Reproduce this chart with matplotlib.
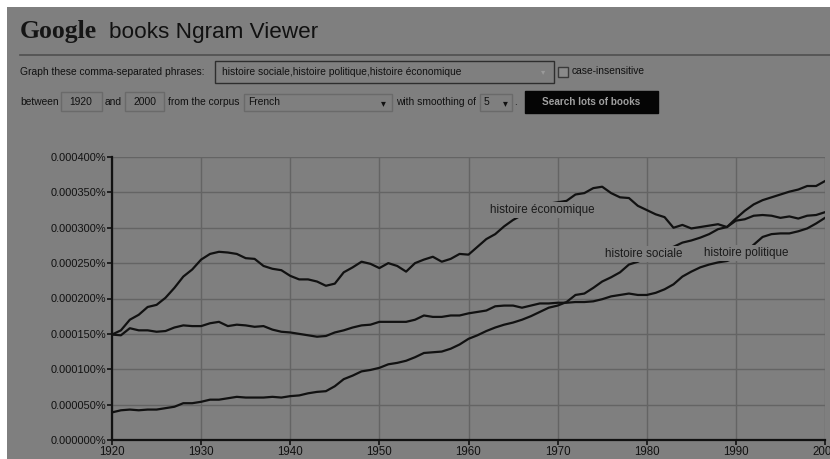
#!/usr/bin/env python3
# -*- coding: utf-8 -*-

import matplotlib
matplotlib.use("Agg")
from matplotlib import pyplot as plt
from matplotlib.patches import Rectangle
from matplotlib.ticker import FuncFormatter, MultipleLocator

# Ngram frequencies, in units of 0.00001 %
YEARS = list(range(1920, 2001))
SOCIALE = [
    3.9, 4.2, 4.3, 4.2, 4.3, 4.3, 4.5, 4.7, 5.2, 5.2,
    5.4, 5.7, 5.7, 5.9, 6.1, 6.0, 6.0, 6.0, 6.1, 6.0,
    6.2, 6.3, 6.6, 6.8, 6.9, 7.6, 8.6, 9.1, 9.7, 9.9,
    10.2, 10.7, 10.9, 11.2, 11.7, 12.3, 12.4, 12.5, 12.9, 13.5,
    14.3, 14.8, 15.4, 15.9, 16.3, 16.6, 17.0, 17.5, 18.1, 18.7,
    19.0, 19.5, 20.5, 20.7, 21.5, 22.4, 23.0, 23.7, 24.8, 25.2,
    25.8, 26.4, 27.0, 27.3, 27.9, 28.2, 28.6, 29.1, 29.8, 30.1,
    31.3, 32.4, 33.3, 33.9, 34.3, 34.7, 35.1, 35.4, 35.9, 35.9,
    36.6,
]
POLITIQUE = [
    14.9, 14.8, 15.8, 15.5, 15.5, 15.3, 15.4, 15.9, 16.2, 16.1,
    16.1, 16.5, 16.7, 16.1, 16.3, 16.2, 16.0, 16.1, 15.6, 15.3,
    15.2, 15.0, 14.8, 14.6, 14.7, 15.2, 15.5, 15.9, 16.2, 16.3,
    16.7, 16.7, 16.7, 16.7, 17.0, 17.6, 17.4, 17.4, 17.6, 17.6,
    17.9, 18.1, 18.3, 18.9, 19.0, 19.0, 18.7, 19.0, 19.3, 19.3,
    19.4, 19.4, 19.5, 19.5, 19.6, 19.9, 20.3, 20.5, 20.7, 20.5,
    20.5, 20.8, 21.3, 22.0, 23.1, 23.8, 24.4, 24.8, 25.1, 25.3,
    25.8, 26.5, 27.6, 28.7, 29.1, 29.2, 29.2, 29.5, 29.9, 30.6,
    31.4,
]
ECONOMIQUE = [
    14.9, 15.5, 17.0, 17.7, 18.8, 19.1, 20.1, 21.5, 23.1, 24.1,
    25.5, 26.3, 26.6, 26.5, 26.3, 25.7, 25.6, 24.6, 24.2, 24.0,
    23.2, 22.7, 22.7, 22.4, 21.8, 22.1, 23.7, 24.4, 25.2, 24.9,
    24.3, 25.0, 24.6, 23.8, 25.0, 25.5, 25.9, 25.2, 25.6, 26.3,
    26.2, 27.3, 28.4, 29.1, 30.2, 31.1, 31.8, 32.3, 33.0, 33.4,
    33.6, 33.8, 34.7, 34.9, 35.6, 35.8, 34.9, 34.3, 34.2, 33.1,
    32.5, 31.9, 31.5, 30.0, 30.4, 29.9, 30.1, 30.3, 30.5, 30.1,
    31.0, 31.2, 31.7, 31.8, 31.7, 31.4, 31.6, 31.3, 31.7, 31.8,
    32.2,
]
SERIES = [
    ("histoire sociale", SOCIALE, (1975.3, 26.3)),
    ("histoire politique", POLITIQUE, (1986.4, 26.4)),
    ("histoire économique", ECONOMIQUE, (1962.4, 32.5)),
]

BG = "#7f7f7f"
INK = "#111111"
W, H = 830, 459

plt.rcParams["font.family"] = ["Liberation Sans", "DejaVu Sans"]

fig = plt.figure(figsize=(W / 100, H / 100), dpi=100)
fig.patch.set_facecolor("white")

# page chrome in pixel coordinates
page = fig.add_axes([0, 0, 1, 1])
page.set_xlim(0, W)
page.set_ylim(H, 0)
page.axis("off")
page.add_patch(Rectangle((7, 7), W, H, facecolor=BG, edgecolor="none"))


def box(x0, y0, x1, y1, edge="#4a4a4a", face=BG, lw=1.0):
    page.add_patch(Rectangle((x0, y0), x1 - x0, y1 - y0, facecolor=face, edgecolor=edge, linewidth=lw))


def label(x, y, s, size=7.4, **kw):
    kw.setdefault("color", INK)
    page.text(x, y, s, fontsize=size, va="center", ha=kw.pop("ha", "left"), **kw)


# title
page.text(20, 38, "Google", fontsize=18.5, family="Liberation Serif", weight="bold", color="#151515", va="baseline")
page.text(109, 38, "books Ngram Viewer", fontsize=16.2, color=INK, va="baseline")
page.plot([20, W], [55, 55], color="#4f4f4f", linewidth=1.2)

# first row
label(20, 72, "Graph these comma-separated phrases:")
box(215, 61, 554, 83, edge="#2e2e2e")
label(222, 72, "histoire sociale,histoire politique,histoire économique")
label(543, 73, "▾", size=6, color="#9a9a9a", ha="center")
box(558, 67, 568, 77, edge="#3a3a3a", face="#8a8a8a")
label(572, 71.5, "case-insensitive")

# second row
label(20, 102, "between")
box(61, 92, 102, 111, edge="#6a6a6a")
label(69, 102, "1920")
label(105, 102, "and")
box(125, 92, 164, 111, edge="#6a6a6a")
label(133, 102, "2000")
label(168, 102, "from the corpus")
box(244, 94, 392, 111, edge="#6a6a6a")
label(248, 102, "French")
label(383, 103, "▾", size=7, ha="center")
label(396, 102, "with smoothing of")
box(480, 94, 512, 111, edge="#6a6a6a")
label(484, 102, "5")
label(505, 103, "▾", size=7, ha="center")
label(514, 102, ".")
box(525, 91, 658, 113, edge="#050505", face="#050505")
label(591.5, 102, "Search lots of books", size=7.2, color="#a0a0a0", ha="center", weight="bold")

# chart
ax = fig.add_axes([112 / W, (H - 440) / H, 713 / W, 283 / H])
ax.set_facecolor(BG)
for name, values, (tx, ty) in SERIES:
    ax.plot(YEARS, values, color=INK, linewidth=1.6, zorder=3)
    ax.text(tx, ty, name, fontsize=8.4, color="#1a1a1a", va="center", zorder=4,
            bbox=dict(facecolor=BG, edgecolor="none", pad=1.5))

ax.set_xlim(1920, 2000)
ax.set_ylim(0, 40)
ax.xaxis.set_major_locator(MultipleLocator(10))
ax.yaxis.set_major_locator(MultipleLocator(5))
ax.yaxis.set_major_formatter(FuncFormatter(lambda v, _: f"{v * 1e-5:.6f}%"))
ax.grid(True, color="#646464", linewidth=1.0)
ax.set_axisbelow(True)
for side in ("top", "right"):
    ax.spines[side].set_visible(False)
for side in ("left", "bottom"):
    ax.spines[side].set_color(INK)
    ax.spines[side].set_linewidth(1.6)
ax.tick_params(axis="y", length=3.5, width=1.2, color=INK, labelsize=7.9, labelcolor=INK, pad=1)
ax.tick_params(axis="x", length=3.5, width=1.2, color=INK, labelsize=8.3, labelcolor=INK, pad=0.5)

fig.savefig("out.png", dpi=100, facecolor="white")
